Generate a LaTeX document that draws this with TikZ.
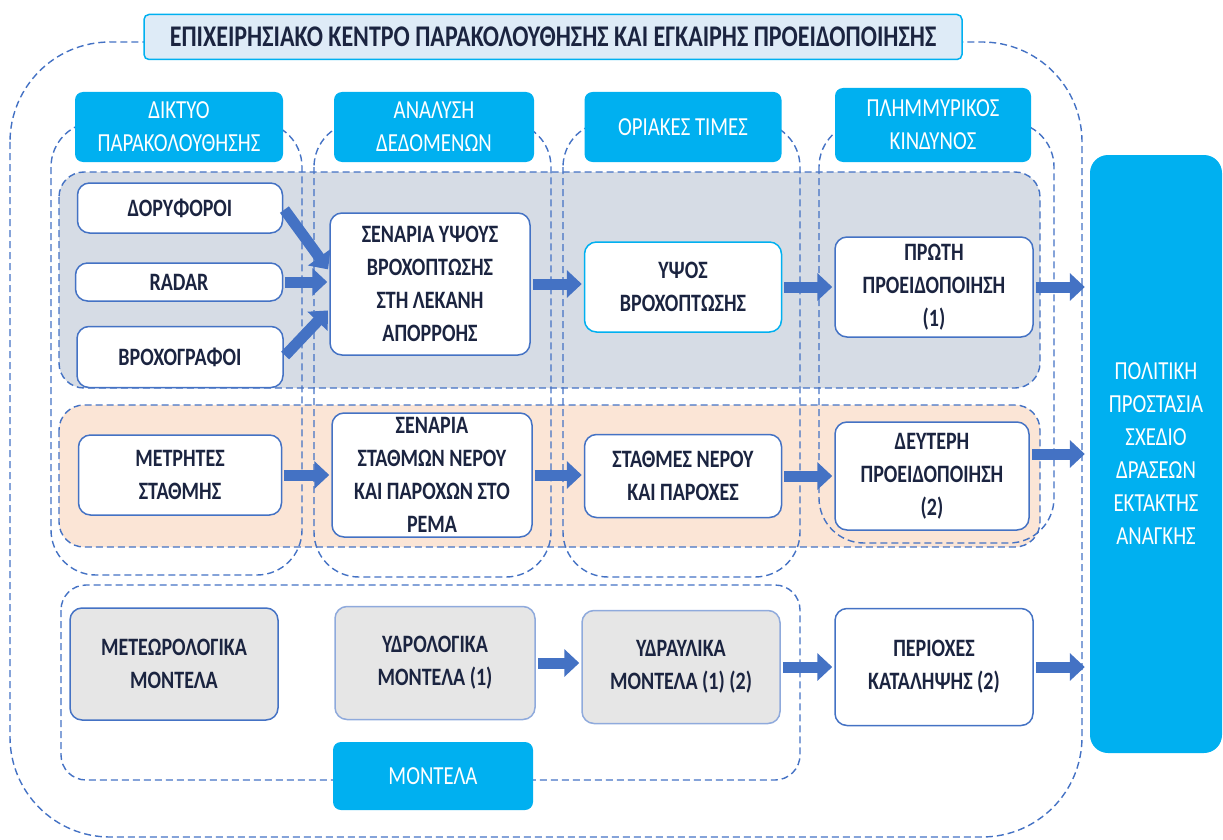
\documentclass[tikz,border=0pt]{standalone}
\usepackage{fontspec}
\setmainfont{Carlito}[FakeStretch=0.8]
\usetikzlibrary{arrows.meta, positioning}
\definecolor{headblue}{HTML}{00B0F0}
\definecolor{lineblue}{HTML}{4472C4}
\definecolor{titlefill}{HTML}{DEEBF7}
\definecolor{rowgray}{HTML}{D6DCE5}
\definecolor{rowpeach}{HTML}{FBE5D6}
\definecolor{modelgray}{HTML}{E6E6E6}
\definecolor{inkblue}{HTML}{1B2440}

\begin{document}
\begin{tikzpicture}[x=1pt, y=-1pt,
    wbox/.style = {draw=lineblue, line width=1.5pt, fill=white,
                   rounded corners=12pt, align=center, text=inkblue,
                   inner sep=0pt, font=\bfseries\fontsize{25}{33}\selectfont},
    gbox/.style = {wbox, fill=modelgray},
    head/.style = {fill=headblue, rounded corners=8pt, align=center,
                   text=white, minimum width=200pt, minimum height=70pt,
                   font=\fontsize{26}{33}\selectfont},
    dashbox/.style = {draw=lineblue, line width=1.4pt,
                      dash pattern=on 7pt off 4pt},
    fat/.style = {draw=lineblue, line width=11pt,
                  -{Triangle[length=15pt, width=27pt]},
                  shorten <=2pt, shorten >=2pt}]
    \useasboundingbox (0,0) rectangle (1223,840);

    % frames
    \draw[dashbox, rounded corners=100pt] (10,42) rectangle (1082,837);
    \draw[dashbox, fill=rowgray, rounded corners=25pt] (59,172) rectangle (1040,388);
    \draw[dashbox, fill=rowpeach, rounded corners=25pt] (59,405) rectangle (1040,547);
    \draw[dashbox, rounded corners=45pt] (51,122) rectangle (302,575);
    \draw[dashbox, rounded corners=45pt] (314,122) rectangle (551,577);
    \draw[dashbox, rounded corners=45pt] (563,122) rectangle (800,577);
    \draw[dashbox, rounded corners=45pt] (819,122) rectangle (1054,543);
    \draw[dashbox, rounded corners=25pt] (61,585) rectangle (800,780);

    % title and headers
    \node[draw=headblue, line width=1.5pt, fill=titlefill, rounded corners=5pt,
          minimum width=818pt, minimum height=45pt, text=inkblue,
          font=\bfseries\fontsize{30}{34}\selectfont] (title) at (553,37)
          {ΕΠΙΧΕΙΡΗΣΙΑΚΟ ΚΕΝΤΡΟ ΠΑΡΑΚΟΛΟΥΘΗΣΗΣ ΚΑΙ ΕΓΚΑΙΡΗΣ ΠΡΟΕΙΔΟΠΟΙΗΣΗΣ};
    \node[head, minimum width=208pt] (net) at (179,127) {ΔΙΚΤΥΟ\\ΠΑΡΑΚΟΛΟΥΘΗΣΗΣ};
    \node[head] (anal) at (434,127) {ΑΝΑΛΥΣΗ\\ΔΕΔΟΜΕΝΩΝ};
    \node[head, minimum width=197pt] (lim) at (683,127) {ΟΡΙΑΚΕΣ ΤΙΜΕΣ};
    \node[head, minimum width=196pt, minimum height=74pt] (risk) at (933,125) {ΠΛΗΜΜΥΡΙΚΟΣ\\ΚΙΝΔΥΝΟΣ};
    \node[head, minimum height=68pt] (mod) at (433,776) {ΜΟΝΤΕΛΑ};

    % monitoring network
    \node[wbox, minimum width=205pt, minimum height=50pt] (dor) at (180,208) {ΔΟΡΥΦΟΡΟΙ};
    \node[wbox, minimum width=207pt, minimum height=38pt] (radar) at (179,282) {RADAR};
    \node[wbox, minimum width=206pt, minimum height=61pt] (brox) at (180,357) {ΒΡΟΧΟΓΡΑΦΟΙ};
    \node[wbox, minimum width=203pt, minimum height=80pt] (metr) at (180,475) {ΜΕΤΡΗΤΕΣ\\ΣΤΑΘΜΗΣ};
    \node[gbox, minimum width=208pt, minimum height=112pt] (meteo) at (174,664) {ΜΕΤΕΩΡΟΛΟΓΙΚΑ\\ΜΟΝΤΕΛΑ};

    % data analysis
    \node[wbox, minimum width=200pt, minimum height=142pt] (scen1) at (430,284)
          {ΣΕΝΑΡΙΑ ΥΨΟΥΣ\\ΒΡΟΧΟΠΤΩΣΗΣ\\ΣΤΗ ΛΕΚΑΝΗ\\ΑΠΟΡΡΟΗΣ};
    \node[wbox, minimum width=200pt, minimum height=124pt] (scen2) at (432,475)
          {ΣΕΝΑΡΙΑ\\ΣΤΑΘΜΩΝ ΝΕΡΟΥ\\ΚΑΙ ΠΑΡΟΧΩΝ ΣΤΟ\\ΡΕΜΑ};
    \node[gbox, draw=lineblue!60, minimum width=200pt, minimum height=113pt] (ydrol) at (435,663)
          {ΥΔΡΟΛΟΓΙΚΑ\\ΜΟΝΤΕΛΑ (1)};

    % limit values
    \node[wbox, draw=headblue, minimum width=197pt, minimum height=90pt] (ypsos) at (683,287)
          {ΥΨΟΣ\\ΒΡΟΧΟΠΤΩΣΗΣ};
    \node[wbox, minimum width=197pt, minimum height=83pt] (stath) at (683,476)
          {ΣΤΑΘΜΕΣ ΝΕΡΟΥ\\ΚΑΙ ΠΑΡΟΧΕΣ};
    \node[gbox, draw=lineblue!60, minimum width=198pt, minimum height=113pt] (ydrav) at (681,667)
          {ΥΔΡΑΥΛΙΚΑ\\ΜΟΝΤΕΛΑ (1) (2)};

    % flood risk
    \node[wbox, minimum width=198pt, minimum height=100pt] (prwti) at (934,287)
          {ΠΡΩΤΗ\\ΠΡΟΕΙΔΟΠΟΙΗΣΗ\\(1)};
    \node[wbox, minimum width=194pt, minimum height=108pt] (deft) at (932,476)
          {ΔΕΥΤΕΡΗ\\ΠΡΟΕΙΔΟΠΟΙΗΣΗ\\(2)};
    \node[wbox, minimum width=198pt, minimum height=117pt] (perio) at (934,667)
          {ΠΕΡΙΟΧΕΣ\\ΚΑΤΑΛΗΨΗΣ (2)};

    \node[head, rounded corners=18pt, minimum width=132pt, minimum height=598pt] (pol) at (1156,454)
          {ΠΟΛΙΤΙΚΗ\\ΠΡΟΣΤΑΣΙΑ\\ΣΧΕΔΙΟ\\ΔΡΑΣΕΩΝ\\ΕΚΤΑΚΤΗΣ\\ΑΝΑΓΚΗΣ};

    % arrows
    \draw[fat] (dor.east) -- ([yshift=13pt]scen1.west);
    \draw[fat] (radar.east) -- (radar.east -| scen1.west);
    \draw[fat] (brox.east) -- ([yshift=-25pt]scen1.west);
    \draw[fat] (scen1.east) -- (scen1.east -| ypsos.west);
    \draw[fat] (ypsos.east) -- (ypsos.east -| prwti.west);
    \draw[fat, shorten >=5pt] (prwti.east) -- (prwti.east -| pol.west);
    \draw[fat] (metr.east) -- (metr.east -| scen2.west);
    \draw[fat] (scen2.east) -- (scen2.east -| stath.west);
    \draw[fat] (stath.east) -- (stath.east -| deft.west);
    \draw[fat, shorten >=5pt] ([yshift=22pt]deft.east) -- ([yshift=22pt]deft.east -| pol.west);
    \draw[fat] (ydrol.east) -- (ydrol.east -| ydrav.west);
    \draw[fat] (ydrav.east) -- (ydrav.east -| perio.west);
    \draw[fat, shorten >=5pt] (perio.east) -- (perio.east -| pol.west);
\end{tikzpicture}
\end{document}
